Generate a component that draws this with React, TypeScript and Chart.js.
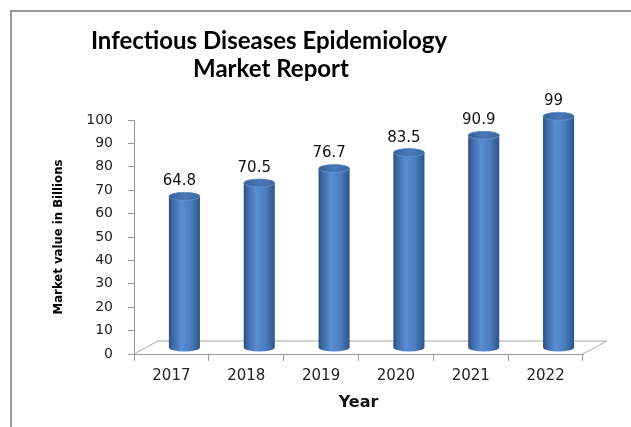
import React, { useEffect, useRef } from "react";
import { Chart, registerables } from "chart.js";

Chart.register(...registerables);

const categories = ["2017", "2018", "2019", "2020", "2021", "2022"];
const marketValues = [64.8, 70.5, 76.7, 83.5, 90.9, 99];
const titleLines = ["Infectious Diseases Epidemiology", "Market Report"];
const yTitle = "Market value in Billions";
const xTitle = "Year";

const DEPTH_X = 24;
const DEPTH_Y = -13;
const BAR_DX = 13;
const BAR_DY = -6;

const framePlugin = {
  id: "frame",
  beforeDraw(chart: any) {
    const ctx = chart.ctx;
    ctx.save();
    ctx.strokeStyle = "#9a9a9a";
    ctx.lineWidth = 2;
    ctx.beginPath();
    ctx.moveTo(11, chart.height);
    ctx.lineTo(11, 11);
    ctx.lineTo(chart.width, 11);
    ctx.stroke();
    // title
    ctx.fillStyle = "#000";
    ctx.font = "bold 24px Lato, 'Open Sans', sans-serif";
    ctx.textAlign = "center";
    ctx.textBaseline = "middle";
    ctx.fillText(titleLines[0], 269, 41);
    ctx.fillText(titleLines[1], 271, 69);
    ctx.restore();
  },
  beforeDatasetsDraw(chart: any) {
    const { ctx, chartArea } = chart;
    const { left, right, bottom } = chartArea;
    ctx.save();
    ctx.strokeStyle = "#a8a8a8";
    ctx.lineWidth = 1;
    ctx.beginPath();
    ctx.moveTo(left, bottom);
    ctx.lineTo(left + DEPTH_X, bottom + DEPTH_Y);
    ctx.lineTo(right + DEPTH_X, bottom + DEPTH_Y);
    ctx.lineTo(right, bottom);
    ctx.stroke();
    ctx.restore();
  },
  afterDatasetsDraw(chart: any) {
    const ctx = chart.ctx;
    const meta = chart.getDatasetMeta(0);
    const data = chart.data.datasets[0].data;
    ctx.save();
    meta.data.forEach((bar: any, i: number) => {
      const p = bar.getProps(["x", "y", "base", "width"], true);
      const cx = p.x + BAR_DX;
      const top = p.y + BAR_DY;
      const bottom = p.base + BAR_DY;
      const rx = p.width / 2;
      const ry = 4;
      const g = ctx.createLinearGradient(cx - rx, 0, cx + rx, 0);
      g.addColorStop(0, "#2b4e7e");
      g.addColorStop(0.12, "#3d68a6");
      g.addColorStop(0.4, "#5a8dd2");
      g.addColorStop(0.7, "#4b7dc0");
      g.addColorStop(1, "#2d5588");
      ctx.beginPath();
      ctx.moveTo(cx - rx, top);
      ctx.lineTo(cx - rx, bottom);
      ctx.ellipse(cx, bottom, rx, ry, 0, Math.PI, 0, true);
      ctx.lineTo(cx + rx, top);
      ctx.ellipse(cx, top, rx, ry, 0, 0, Math.PI, true);
      ctx.closePath();
      ctx.fillStyle = g;
      ctx.fill();
      // top cap
      const tg = ctx.createLinearGradient(cx - rx, 0, cx + rx, 0);
      tg.addColorStop(0, "#365f98");
      tg.addColorStop(0.5, "#4a79ba");
      tg.addColorStop(1, "#3a66a2");
      ctx.beginPath();
      ctx.ellipse(cx, top, rx, ry, 0, 0, Math.PI * 2);
      ctx.fillStyle = tg;
      ctx.fill();
      ctx.strokeStyle = "#6b93c9";
      ctx.lineWidth = 0.8;
      ctx.stroke();
      // label
      ctx.fillStyle = "#111";
      ctx.font = "15px 'DejaVu Sans', sans-serif";
      ctx.textAlign = "center";
      ctx.textBaseline = "middle";
      ctx.fillText(String(data[i]), p.x + 8, top - 15);
    });
    ctx.restore();
  },
};

export default function App() {
  const ref = useRef<HTMLCanvasElement | null>(null);
  useEffect(() => {
    if (!ref.current) return;
    const chart = new Chart(ref.current, {
      type: "bar",
      data: {
        labels: categories,
        datasets: [
          {
            data: marketValues,
            backgroundColor: "rgba(0,0,0,0)",
            borderWidth: 0,
            barPercentage: 1,
            categoryPercentage: 0.415,
          },
        ],
      },
      options: {
        animation: false,
        responsive: false,
        devicePixelRatio: 1,
        layout: { padding: { top: 120, right: 48, left: 0, bottom: 0 } },
        plugins: {
          legend: { display: false },
          tooltip: { enabled: false },
          title: { display: false },
        },
        scales: {
          x: {
            afterFit(scale: any) {
              scale.height = 73;
            },
            grid: {
              drawOnChartArea: false,
              tickLength: 7,
              color: "#999",
            },
            border: { color: "#999" },
            ticks: {
              color: "#222",
              padding: 6,
              font: { family: "'DejaVu Sans', sans-serif", size: 15 },
            },
            title: {
              display: true,
              text: xTitle,
              color: "#111",
              font: { family: "'DejaVu Sans', sans-serif", size: 16, weight: "bold" },
              padding: { top: 0, bottom: 15 },
            },
          },
          y: {
            min: 0,
            max: 100,
            afterFit(scale: any) {
              scale.width = 134;
            },
            grid: {
              drawOnChartArea: false,
              tickLength: 6,
              color: "#999",
            },
            border: { color: "#999" },
            ticks: {
              stepSize: 10,
              color: "#222",
              padding: 15,
              font: { family: "'DejaVu Sans', sans-serif", size: 14 },
            },
            title: {
              display: true,
              text: yTitle,
              color: "#000",
              font: {
                family: "'Liberation Sans Narrow', 'DejaVu Sans Condensed', sans-serif",
                size: 13,
                weight: "bold",
              },
              padding: { top: 51, bottom: 0 },
            },
          },
        },
      },
      plugins: [framePlugin],
    });
    return () => chart.destroy();
  }, []);
  return (
    <div style={{ position: "absolute", left: 0, top: 0, width: 631, height: 427, background: "#fff" }}>
      <canvas ref={ref} width={631} height={427} />
    </div>
  );
}
